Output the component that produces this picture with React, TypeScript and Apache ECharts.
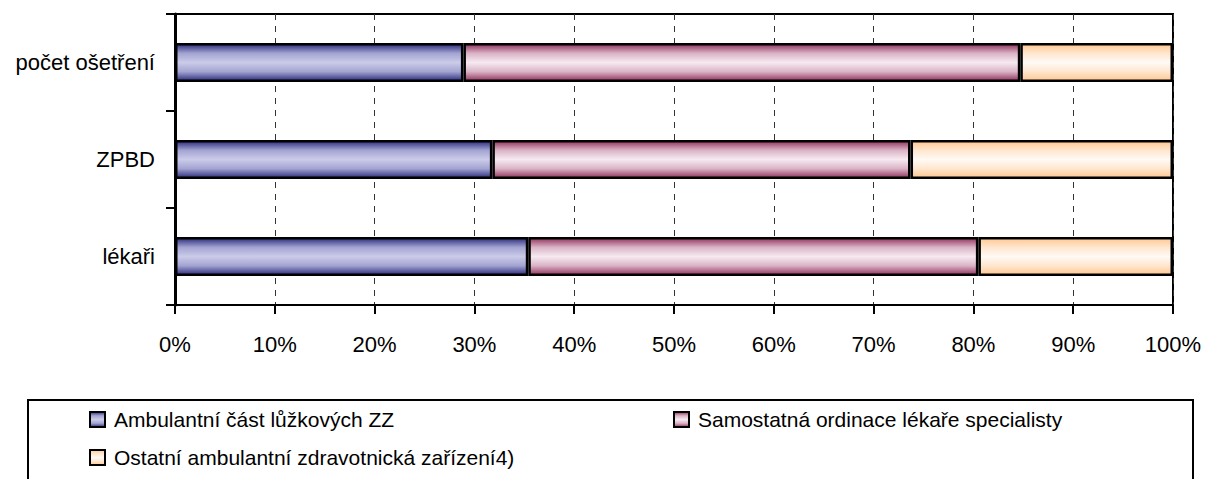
import React, { useEffect, useRef } from "react";
import * as echarts from "echarts";

const categories = ["lékaři", "ZPBD", "počet ošetření"];
const seriesNames = [
  "Ambulantní část lůžkových ZZ",
  "Samostatná ordinace lékaře specialisty",
  "Ostatní ambulantní zdravotnická zařízení4)",
];
const ambulantniLuzkove = [35.4, 31.8, 28.9];
const samostatnaOrdinace = [45.1, 41.9, 55.8];
const ostatniZarizeni = [19.5, 26.3, 15.3];
const xTicks = [0, 10, 20, 30, 40, 50, 60, 70, 80, 90, 100];

const FONT = "'Liberation Sans Narrow', 'Arial Narrow', 'Liberation Sans', Arial, sans-serif";

function grad(edge: string, mid: string, center: string) {
  return new echarts.graphic.LinearGradient(0, 0, 0, 1, [
    { offset: 0, color: edge },
    { offset: 0.25, color: mid },
    { offset: 0.5, color: center },
    { offset: 0.75, color: mid },
    { offset: 1, color: edge },
  ]);
}

export default function App() {
  const ref = useRef<HTMLDivElement>(null);
  useEffect(() => {
    if (!ref.current) return;
    const chart = echarts.init(ref.current, undefined, { renderer: "svg" });
    const colors = [
      grad("#2e2e80", "#a4a4d2", "#cbcbe9"),
      grad("#93355f", "#dab4c6", "#f6eaf1"),
      grad("#ffc890", "#ffe6cf", "#fffaf5"),
    ];
    const data = [ambulantniLuzkove, samostatnaOrdinace, ostatniZarizeni];
    const legendPos = [
      { left: 89, top: 409 },
      { left: 673, top: 409 },
      { left: 89, top: 447 },
    ];
    chart.setOption({
      animation: false,
      backgroundColor: "#fff",
      grid: {
        left: 175,
        right: 32,
        top: 14,
        bottom: 174,
        show: true,
        borderColor: "#000",
        borderWidth: 2,
        backgroundColor: "transparent",
      },
      xAxis: {
        type: "value",
        min: 0,
        max: 100,
        interval: 10,
        axisLine: { show: true, lineStyle: { color: "#000", width: 2 } },
        axisTick: { show: true, length: 9, lineStyle: { color: "#000", width: 2 } },
        axisLabel: {
          formatter: (v: number) => (xTicks.includes(v) ? v + "%" : ""),
          color: "#000",
          fontSize: 22,
          fontFamily: FONT,
          margin: 28,
        },
        splitLine: { show: true, lineStyle: { color: "#333", type: [6, 6], width: 1 } },
      },
      yAxis: {
        type: "category",
        data: categories,
        axisLine: { show: true, lineStyle: { color: "#000", width: 3 } },
        axisTick: { show: true, length: 9, alignWithLabel: false, lineStyle: { color: "#000", width: 2 } },
        axisLabel: { color: "#000", fontSize: 22, fontFamily: FONT, margin: 20 },
        splitLine: { show: false },
      },
      legend: seriesNames.map((name, i) => ({
        data: [name],
        left: legendPos[i].left,
        top: legendPos[i].top,
        padding: 0,
        itemWidth: 15,
        itemHeight: 15,
        icon: "rect",
        itemStyle: { borderColor: "#000", borderWidth: 2 },
        textStyle: { color: "#000", fontSize: 21, fontFamily: FONT, padding: [0, 0, 0, 4] },
        selectedMode: false,
      })),
      graphic: [
        {
          type: "rect",
          shape: { x: 28, y: 400, width: 1165, height: 120 },
          style: { fill: "none", stroke: "#000", lineWidth: 2 },
          silent: true,
        },
      ],
      series: seriesNames.map((name, i) => ({
        name,
        type: "bar",
        stack: "total",
        data: data[i],
        barWidth: 39,
        itemStyle: { color: colors[i], borderColor: "#000", borderWidth: 2.5 },
      })),
    });
    return () => chart.dispose();
  }, []);
  return (
    <div
      ref={ref}
      style={{ position: "fixed", left: 0, top: 0, width: 1205, height: 479 }}
    />
  );
}
